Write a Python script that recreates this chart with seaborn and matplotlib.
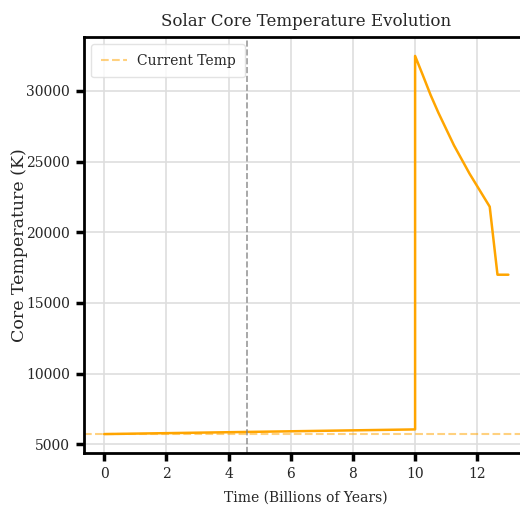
import numpy as np
import pandas as pd
import matplotlib
matplotlib.use("Agg")
import matplotlib.pyplot as plt
import seaborn as sns

# values
time_gyr = [0.0, 10.0, 10.0, 10.25, 10.5, 10.75, 11.0, 11.25, 11.5, 11.75,
            12.0, 12.25, 12.4, 12.65, 13.0]
core_temp = [5730, 6060, 32470, 31100, 29700, 28450, 27300, 26150, 25150, 24150,
             23250, 22350, 21810, 17000, 17000]
current_temp = 5730
current_age = 4.6

sns.set_style("whitegrid")
plt.rcParams["font.family"] = ["DejaVu Serif", "DejaVu Sans"]

df = pd.DataFrame({"time": time_gyr, "temp": core_temp})

fig = plt.figure(figsize=(5.2, 5.18), dpi=100)
ax = fig.add_axes([0.1615, 0.1255, 0.855, 0.803])

sns.lineplot(data=df, x="time", y="temp", ax=ax, color="orange", linewidth=1.8,
             sort=False, estimator=None)
ax.axhline(current_temp, color="orange", linestyle="--", alpha=0.5, linewidth=1.5,
           label="Current Temp")
ax.axvline(current_age, color="gray", linestyle="--", alpha=0.8, linewidth=1.2)

ax.set_title("Solar Core Temperature Evolution", fontsize=12, pad=8)
ax.set_xlabel("Time (Billions of Years)", fontsize=10, labelpad=7)
ax.set_ylabel("Core Temperature (K)", fontsize=12.5)
ax.yaxis.set_label_coords(-0.127, 0.5)
ax.tick_params(axis="both", labelsize=10)

ax.grid(True, color="#dedede", linewidth=1.2)
for side in ["left", "bottom", "top", "right"]:
    ax.spines[side].set_color("black")
    ax.spines[side].set_linewidth(2)
ax.tick_params(axis="both", which="major", length=6, width=2.5, color="black",
               left=True, bottom=True, pad=4)

leg = ax.legend(loc="upper left", fontsize=10, handlelength=1.9, handletextpad=0.7,
                borderpad=0.7)
leg.get_frame().set_edgecolor("#dddddd")

fig.savefig("out.png", dpi=100)
